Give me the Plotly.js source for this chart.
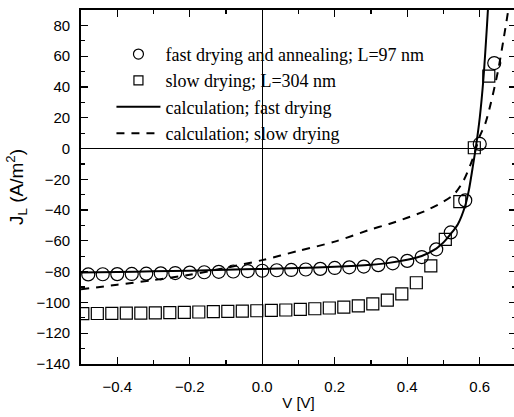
<!DOCTYPE html>
<html><head><meta charset="utf-8">
<script src="https://cdn.plot.ly/plotly-3.0.1.min.js"></script>
<style>html,body{margin:0;padding:0;overflow:hidden;background:#fff;}</style>
</head><body><div id="chart"></div>
<script>
// fast drying and annealing; L=97 nm (circles)
const fastV = [-0.48,-0.44,-0.40,-0.36,-0.32,-0.28,-0.24,-0.20,-0.16,-0.12,-0.08,-0.04,0.00,0.04,0.08,0.12,0.16,0.20,0.24,0.28,0.32,0.36,0.40,0.44,0.48,0.52,0.56,0.60,0.64];
const fastJ = [-81.8,-81.7,-81.6,-81.5,-81.3,-81.1,-80.9,-80.6,-80.4,-80.1,-79.9,-79.6,-79.4,-79.1,-78.9,-78.6,-78.2,-77.6,-77.2,-76.7,-75.8,-74.6,-73.0,-70.5,-65.5,-54.5,-33.7,3,55.5];
// slow drying; L=304 nm (squares)
const slowV = [-0.495,-0.455,-0.415,-0.375,-0.335,-0.295,-0.255,-0.215,-0.175,-0.135,-0.095,-0.055,-0.015,0.025,0.065,0.105,0.145,0.185,0.225,0.265,0.305,0.345,0.385,0.425,0.465,0.505,0.545,0.585,0.625];
const slowJ = [-107.3,-107.2,-107.1,-107.0,-106.9,-106.8,-106.6,-106.4,-106.2,-106.0,-105.8,-105.6,-105.4,-105.2,-104.9,-104.5,-104.1,-103.6,-103.0,-102.2,-101.0,-98.5,-94.5,-87.2,-76.2,-59,-34.5,0.5,47];
// calculation; fast drying (solid)
const calcFastV = [-0.5,-0.4,-0.3,-0.2,-0.1,0.0,0.1,0.2,0.3,0.35,0.4,0.44,0.48,0.50,0.52,0.54,0.56,0.57,0.58,0.59,0.60,0.61,0.62,0.625];
const calcFastJ = [-80.5,-80.2,-79.8,-79.4,-78.8,-78.2,-77.6,-76.8,-75.5,-74.3,-72.3,-69.8,-65,-61,-55.5,-49,-37,-27,-13,2,20,45,80,100];
// calculation; slow drying (dashed)
const calcSlowV = [-0.5,-0.4,-0.3,-0.2,-0.1,0.0,0.1,0.2,0.3,0.35,0.4,0.45,0.5,0.53,0.555,0.58,0.60,0.615,0.63,0.65,0.665,0.68,0.69];
const calcSlowJ = [-91.5,-88.5,-85.5,-82,-77.5,-72.5,-66.5,-60.5,-52.5,-49,-45,-40.5,-34.5,-29.5,-21,-7,8,16,29,50,70,92,108];

const seriesNames = ['fast drying and annealing; L=97 nm','slow drying; L=304 nm','calculation; fast drying','calculation; slow drying'];

const serif = 'Liberation Serif, Times New Roman, serif';
const sans = 'Liberation Sans, Arial, sans-serif';

const circleMarker = (size) => ({symbol:'circle-open', size:size, color:'#000', line:{width:1.2, color:'#000'}});
const squareMarker = (size) => ({symbol:'square-open', size:size, color:'#000', line:{width:1.2, color:'#000'}});
const solidLine = {color:'#000', width:2, shape:'spline', smoothing:0.8};
const dashLine = {color:'#000', width:2, dash:'8px,7px', shape:'spline', smoothing:0.8};

const traces = [
  {x: fastV, y: fastJ, mode:'markers', showlegend:false, marker:circleMarker(13)},
  {x: slowV, y: slowJ, mode:'markers', showlegend:false, marker:squareMarker(12)},
  {x: calcFastV, y: calcFastJ, mode:'lines', showlegend:false, line:solidLine},
  {x: calcSlowV, y: calcSlowJ, mode:'lines', showlegend:false, line:dashLine},
  // legend entries
  {x:[null], y:[null], mode:'markers', name:seriesNames[0], legendgroup:'a', marker:circleMarker(10)},
  {x:[null], y:[null], mode:'markers', name:seriesNames[1], legendgroup:'b', marker:squareMarker(9)},
  {x:[null], y:[null], mode:'lines', name:seriesNames[2], legendgroup:'c', line:{color:'#000', width:2}},
  {x:[null], y:[null], mode:'lines', name:seriesNames[3], legendgroup:'d', line:{color:'#000', width:2, dash:'8px,7px'}}
];

const layout = {
  width: 518, height: 417,
  margin:{l:81, r:2, t:10, b:53},
  paper_bgcolor:'#fff', plot_bgcolor:'#fff',
  showlegend:true,
  legend:{x:0.07, y:0.927, xanchor:'left', yanchor:'top', bgcolor:'rgba(0,0,0,0)',
          font:{family:serif, size:18, color:'#000'}, tracegroupgap:0, itemwidth:44},
  xaxis:{range:[-0.5,0.7], dtick:0.2, tick0:0, tickformat:'.1f',
         ticks:'inside', ticklen:7, tickwidth:1.2, tickcolor:'#000',
         minor:{dtick:0.1, tick0:0, ticks:'inside', ticklen:4, tickwidth:1.2, tickcolor:'#000'},
         showline:true, linecolor:'#000', linewidth:1.8, mirror:'ticks',
         showgrid:false, zeroline:true, zerolinecolor:'#000', zerolinewidth:1.2,
         tickfont:{family:sans, size:15, color:'#000'}, ticklabelstandoff:8,
         title:{text:'V [V]', font:{family:sans, size:15, color:'#000'}, standoff:4}},
  yaxis:{range:[-140,90], dtick:20, tick0:0,
         ticks:'inside', ticklen:7, tickwidth:1.2, tickcolor:'#000',
         minor:{dtick:10, tick0:0, ticks:'inside', ticklen:4, tickwidth:1.2, tickcolor:'#000'},
         showline:true, linecolor:'#000', linewidth:1.8, mirror:'ticks',
         showgrid:false, zeroline:true, zerolinecolor:'#000', zerolinewidth:1.2,
         tickfont:{family:sans, size:15, color:'#000'}, ticklabelstandoff:6,
         title:{text:'J<sub>L</sub> (A/m<sup>2</sup>)', font:{family:sans, size:19, color:'#000'}, standoff:8}}
};

Plotly.newPlot('chart', traces, layout, {staticPlot:true, displayModeBar:false});
</script></body></html>
